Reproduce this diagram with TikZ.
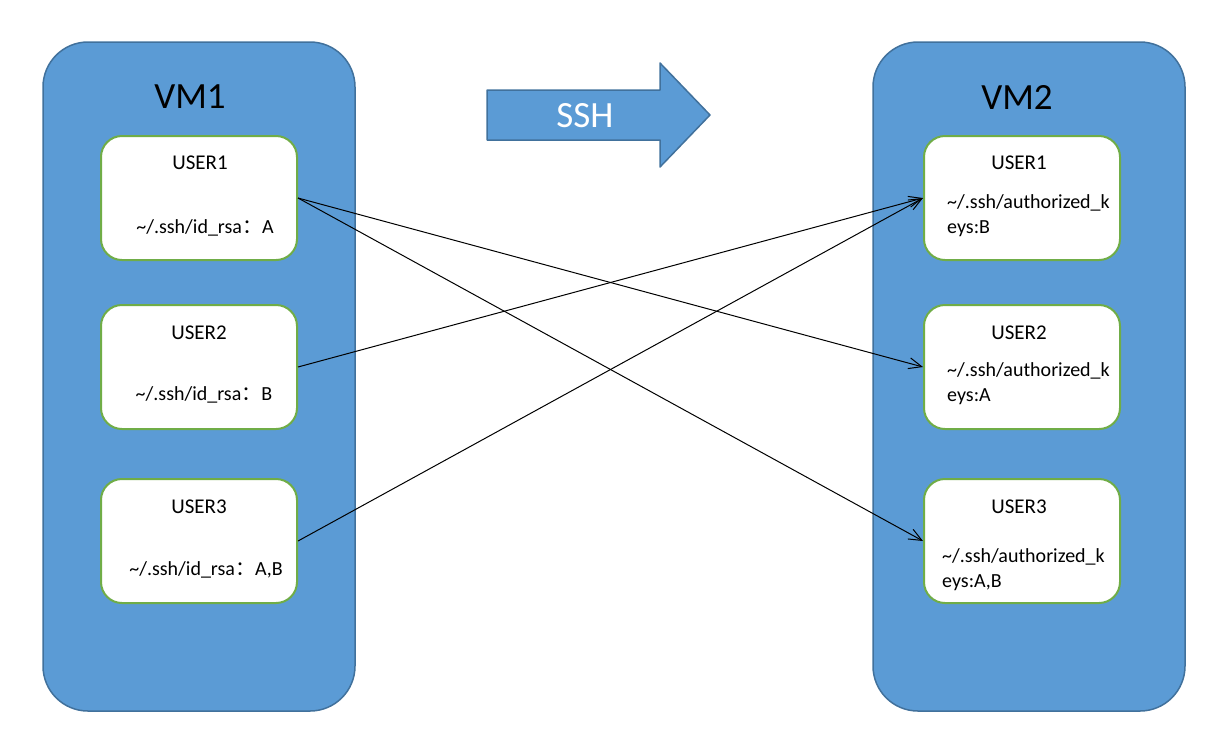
\documentclass[tikz,border=0pt]{standalone}
\usepackage{fontspec}
\setmainfont{Carlito}
\newfontfamily\cjk{Noto Sans CJK SC}
\usetikzlibrary{arrows.meta}
\definecolor{vmblue}{HTML}{5B9BD5}
\definecolor{vmedge}{HTML}{41719C}
\definecolor{usergreen}{HTML}{70AD47}
\newcommand{\colonfw}{{\cjk ：}}

\tikzset{
  vmbox/.style={draw=vmedge, line width=1.5pt, fill=vmblue, rounded corners=45pt},
  userbox/.style={draw=usergreen, line width=2pt, fill=white, rounded corners=21pt,
    minimum width=196pt, minimum height=124pt, inner sep=0pt},
  usertitle/.style={font=\fontsize{21}{25}\selectfont, inner sep=0pt},
  keytext/.style={font=\fontsize{20}{25}\selectfont, inner sep=0pt, align=left},
  vmtitle/.style={font=\fontsize{37}{40}\selectfont, inner sep=0pt},
  keylink/.style={line width=1pt, -{Straight Barb[length=13pt,width=11pt]}}
}

\begin{document}
\begin{tikzpicture}[line join=round,x=1pt,y=-1pt]
\useasboundingbox (0,0) rectangle (1212,748);
%VM-laatikot
\draw[vmbox] (43,42) rectangle (355,711);
\draw[vmbox] (873,42) rectangle (1185,711);
\node[vmtitle] (vm1) at (190,97) {VM1};
\node[vmtitle] (vm2) at (1017,97) {VM2};

%SSH-nuoli
\draw[draw=vmedge, line width=1.5pt, fill=vmblue] (487,90)--(660,90)--(660,63)--(710,115)--(660,167)--(660,140)--(487,140)--cycle;
\node[vmtitle, text=white] (ssh) at (585,116) {SSH};

%vasemmat kayttajat
\node[userbox] (l1) at (199,198) {};
\node[userbox] (l2) at (199,367) {};
\node[userbox] (l3) at (199,541) {};
\node[usertitle] at (200,163) {USER1};
\node[usertitle] at (199,333) {USER2};
\node[usertitle] at (199,507) {USER3};
\node[keytext] at (205,228) {\textasciitilde/.ssh/id\_rsa\colonfw A};
\node[keytext] at (204,395) {\textasciitilde/.ssh/id\_rsa\colonfw B};
\node[keytext] at (206,570) {\textasciitilde/.ssh/id\_rsa\colonfw A,B};

%oikeat kayttajat
\node[userbox] (r1) at (1022,198) {};
\node[userbox] (r2) at (1022,367) {};
\node[userbox] (r3) at (1022,541) {};
\node[usertitle] at (1019,163) {USER1};
\node[usertitle] at (1019,333) {USER2};
\node[usertitle] at (1019,507) {USER3};
\node[keytext, anchor=west] at (947,216) {\textasciitilde/.ssh/authorized\_k\\eys:B};
\node[keytext, anchor=west] at (947,384) {\textasciitilde/.ssh/authorized\_k\\eys:A};
\node[keytext, anchor=west] at (942,570) {\textasciitilde/.ssh/authorized\_k\\eys:A,B};

%avaimet
\draw[keylink] (l1.east) -- (r2.west);
\draw[keylink] (l1.east) -- (r3.west);
\draw[keylink] (l2.east) -- (r1.west);
\draw[keylink] (l3.east) -- (r1.west);
\end{tikzpicture}
\end{document}
